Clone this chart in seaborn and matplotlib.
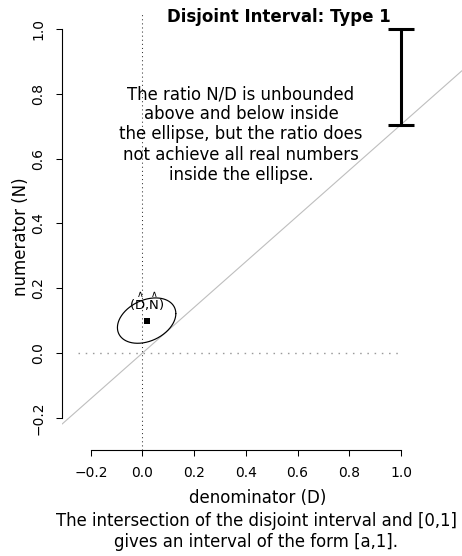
import numpy as np
import pandas as pd
import matplotlib
matplotlib.use("Agg")
import matplotlib.pyplot as plt
import seaborn as sns

# --- values ---------------------------------------------------------------
estimate_D = [0.016]          # point estimate of the denominator
estimate_N = [0.100]          # point estimate of the numerator
ellipse_half_D = 0.113        # half extent of the confidence ellipse along D
ellipse_half_N = 0.070        # half extent of the confidence ellipse along N
ellipse_phase_deg = 72        # phase shift between D and N (sets the tilt)
interval_low = 0.705          # a: lower end of the interval [a, 1]
interval_high = 1.0
x_ticks = [-0.2, 0.0, 0.2, 0.4, 0.6, 0.8, 1.0]
y_ticks = [-0.2, 0.0, 0.2, 0.4, 0.6, 0.8, 1.0]

title = "Disjoint Interval: Type 1"
x_label = "denominator (D)"
y_label = "numerator (N)"
estimate_label = (r"$(\overset{\wedge}{\mathrm{D}}$,"
                  r"$\overset{\wedge}{\mathrm{N}})$")
note = ("The ratio N/D is unbounded\nabove and below inside\n"
        "the ellipse, but the ratio does\nnot achieve all real numbers\n"
        "inside the ellipse.")
caption = ("The intersection of the disjoint interval and [0,1]\n"
           "gives an interval of the form [a,1].")

# --- style ----------------------------------------------------------------
sns.set_theme(style="white")
plt.rcParams["font.family"] = ["DejaVu Sans"]
plt.rcParams["mathtext.fontset"] = "dejavusans"
plt.rcParams["lines.scale_dashes"] = False
plt.rcParams["text.color"] = "black"
plt.rcParams["axes.labelcolor"] = "black"

W, H = 462, 556
fig = plt.figure(figsize=(W / 100, H / 100), dpi=100)
fig.patch.set_facecolor("white")

def fx(px):
    return px / W

def fy(py):
    return 1 - py / H

ax = fig.add_axes([fx(62), fy(450), (462 - 62) / W, (450 - 12) / H])
ax.set_facecolor("white")
ax.set_xlim(-0.3114, 1.2360)
ax.set_ylim(-0.2994, 1.0525)

# reference lines
ax.axline((0, 0), slope=interval_low, color="#bebebe", lw=0.8, zorder=1)
ax.axvline(0, color="#333333", lw=0.75, ls=(0, (0.75, 2.2)), zorder=1)
ax.hlines(0, -0.25, 1.0, color="#9a9a9a", lw=1.0, ls=(0, (1.1, 4.1)), zorder=1)

# confidence ellipse around the estimate
t = np.linspace(0, 2 * np.pi, 361)
phase = np.deg2rad(ellipse_phase_deg)
ell = pd.DataFrame({
    "D": estimate_D[0] + ellipse_half_D * np.cos(t),
    "N": estimate_N[0] + ellipse_half_N * np.cos(t - phase),
})
sns.lineplot(data=ell, x="D", y="N", sort=False, estimator=None,
             color="black", lw=0.85, ax=ax, zorder=3)

# point estimate and its label
est = pd.DataFrame({"D": estimate_D, "N": estimate_N})
sns.scatterplot(data=est, x="D", y="N", marker="s", s=18, color="black",
                linewidth=0, ax=ax, zorder=4)
ax.annotate(estimate_label,
            xy=(estimate_D[0], estimate_N[0]), xytext=(0, 7.7),
            textcoords="offset points", ha="center", va="baseline",
            fontsize=9.5, color="black", zorder=5)

# the interval [a, 1]
ax.errorbar([1.0], [interval_high], yerr=[[interval_high - interval_low], [0]],
            fmt="none", ecolor="black", elinewidth=2.2, capsize=9.7,
            capthick=2.2, zorder=4)

# axes in base-graphics fashion
for side in ("top", "right"):
    ax.spines[side].set_visible(False)
for side in ("left", "bottom"):
    ax.spines[side].set_color("black")
    ax.spines[side].set_linewidth(0.8)
ax.spines["left"].set_bounds(y_ticks[0], y_ticks[-1])
ax.spines["bottom"].set_bounds(x_ticks[0], x_ticks[-1])
ax.set_xticks(x_ticks)
ax.set_yticks(y_ticks)
ax.set_xticklabels([f"{v:.1f}".replace("-", "\u2212") for v in x_ticks])
ax.set_yticklabels([f"{v:.1f}".replace("-", "\u2212") for v in y_ticks])
ax.tick_params(bottom=True, left=True, direction="out", length=4.3,
               width=0.75, colors="black", labelsize=10, pad=7.5)
for lab in ax.get_yticklabels():
    lab.set_rotation(90)
    lab.set_va("center")
ax.set_xlabel("")
ax.set_ylabel("")
ax.grid(False)

# text
fig.text(fx(279), fy(17), title, ha="center", va="center",
         fontsize=12, fontweight="bold")
fig.text(fx(241), fy(134.5), note, ha="center", va="center",
         multialignment="center", fontsize=11.9, linespacing=1.16)
fig.text(fx(257.5), fy(498), x_label, ha="center", va="center", fontsize=12)
fig.text(fx(21), fy(237), y_label, ha="center", va="center", rotation=90,
         fontsize=12)
fig.text(fx(256), fy(531.5), caption, ha="center", va="center",
         multialignment="center", fontsize=11.9, linespacing=1.2)

fig.savefig("out.png", dpi=100, facecolor="white")
